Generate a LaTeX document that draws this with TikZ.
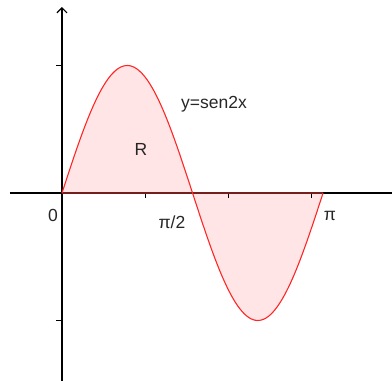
\documentclass[tikz,border=0pt]{standalone}
\usepackage{fontspec}
\setmainfont{Liberation Sans}
\usetikzlibrary{arrows.meta}
\begin{document}
\begin{tikzpicture}[x=1pt,y=1pt,
  axis/.style={line width=1.3pt,black},
  tickmark/.style={line width=1.1pt,black},
  curve/.style={red!85!white,line width=1.1pt},
  lbl/.style={font=\fontsize{17.5}{17.5}\selectfont,text=black!85,inner sep=0pt}]
\useasboundingbox (-62,-188) rectangle (330,193);
% region fill
\fill[red!10] plot[domain=0:3.14159,samples=120] ({83.1*\x},{127.5*sin(2*\x r)}) -- cycle;
% axes
\coordinate (xl) at (-52,0);
\coordinate (xr) at (330,0);
\coordinate (yb) at (0,-190);
\coordinate (yt) at (0,186);
\draw[axis] (xl) -- (xr);
\draw[axis,-{Straight Barb[length=5pt,width=10pt,line width=1.2pt]}] (yb) -- (yt);
% ticks
\foreach \k in {1,2,3} \draw[tickmark] (83.1*\k,0) -- (83.1*\k,-5);
\draw[tickmark] (-6,127.5) -- (0,127.5);
\draw[tickmark] (-6,-127.5) -- (0,-127.5);
% baseline and curve
\draw[red!70!black!80!white,line width=1.1pt,opacity=0.6] (0,0) -- (261,0);
\draw[curve] plot[domain=0:3.14159,samples=120] ({83.1*\x},{127.5*sin(2*\x r)});
% labels
\node[lbl] (zero) at (-9,-22) {0};
\node[lbl] (pihalf) at (110,-29) {π/2};
\node[lbl] (pi) at (268,-23) {π};
\node[lbl] (eq) at (152,89) {y=sen2x};
\node[lbl] (R) at (79,44) {R};
\end{tikzpicture}
\end{document}
